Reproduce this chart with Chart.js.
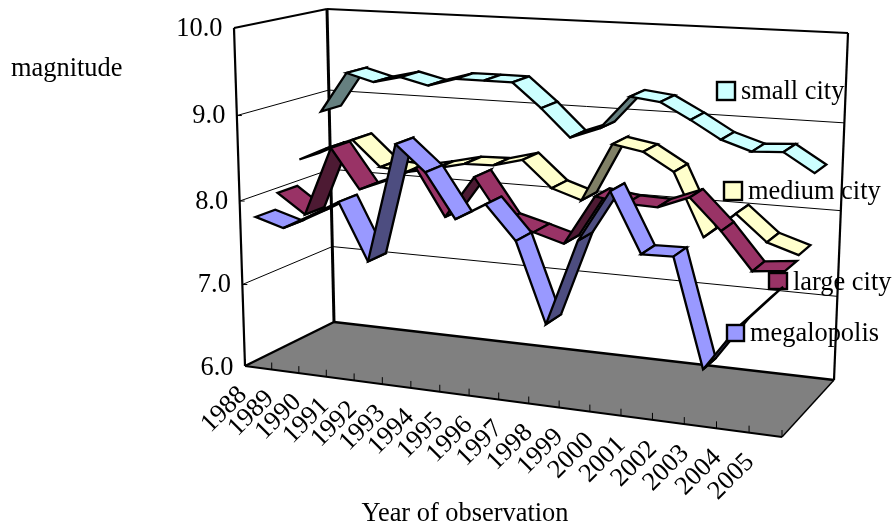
<!DOCTYPE html>
<html>
<head>
<meta charset="utf-8">
<style>html,body{margin:0;padding:0;background:#fff}canvas{display:block}</style>
<script src="https://cdn.jsdelivr.net/npm/chart.js@4"></script>
</head>
<body>
<canvas id="c" width="893" height="529" style="width:893px;height:529px"></canvas>
<script>
const categories = ['1988','1989','1990','1991','1992','1993','1994','1995','1996','1997','1998','1999','2000','2001','2002','2003','2004','2005'];
const smallCity   = [8.82,9.31,9.22,9.30,9.22,9.32,9.32,9.32,9.04,8.72,8.85,9.24,9.20,9.02,8.82,8.71,8.73,8.52];
const mediumCity  = [8.32,8.48,8.61,8.31,8.28,8.35,8.43,8.44,8.53,8.23,8.12,8.79,8.73,8.53,7.82,8.12,7.83,7.72];
const largeCity   = [8.01,7.78,8.60,8.14,8.28,8.45,7.91,8.40,7.92,7.83,7.73,8.30,8.25,8.24,8.38,8.04,7.63,7.67];
const megalopolis = [7.82,7.72,7.90,8.09,7.43,8.81,8.52,8.02,8.22,7.84,6.93,7.91,8.49,7.83,7.84,6.63,7.13,7.51];
const yMin = 6, yMax = 10, yStep = 1;
const FONT = '26.4px "Liberation Serif"';

// projected box corners: [front/back][left/right][bottom/top]
const C = {
  f:{l:{b:[245,366],t:[234,28]}, r:{b:[782,437],t:[796,62]}},
  k:{l:{b:[334,322],t:[327,9]},  r:{b:[834,380],t:[848,33]}}
};
const lerp=(a,b,s)=>[a[0]+(b[0]-a[0])*s,a[1]+(b[1]-a[1])*s];
function project(t,v,z){
  const tw=t*(1-0.11*(1-t)), vw=v*(1-0.048*(1-v));
  const fl=lerp(C.f.l.b,C.f.l.t,vw), fr=lerp(C.f.r.b,C.f.r.t,vw);
  const kl=lerp(C.k.l.b,C.k.l.t,vw), kr=lerp(C.k.r.b,C.k.r.t,vw);
  return lerp(lerp(fl,fr,tw),lerp(kl,kr,tw),z);
}
function line(ctx,a,b,w){ctx.lineWidth=w;ctx.beginPath();ctx.moveTo(a[0],a[1]);ctx.lineTo(b[0],b[1]);ctx.stroke();}
function key(ctx,x,y,w,h,col){ctx.fillStyle=col;ctx.strokeStyle='#000';ctx.lineWidth=2.4;ctx.fillRect(x,y,w,h);ctx.strokeRect(x,y,w,h);}

const ribbonStyle = [
  {z:0.77,light:'#CCFFFF',dark:'#668080'},
  {z:0.52,light:'#FFFFCC',dark:'#808066'},
  {z:0.27,light:'#993366',dark:'#4D1A33'},
  {z:0.02,light:'#9999FF',dark:'#4D4D80'}
];
const legendSpots = [
  {x:717,y:82,w:18,h:18,tx:741,ty:92.5},
  {x:724,y:182,w:18,h:18,tx:748,ty:192.5},
  {x:769,y:273,w:18,h:16,tx:793,ty:283.5},
  {x:727,y:325,w:17,h:16,tx:750,ty:334.5}
];

const box3d = {
  id:'box3d',
  afterDatasetsDraw(chart){
    const ctx=chart.ctx, xs=chart.scales.x, ys=chart.scales.y;
    const tOf=i=>(xs.getPixelForValue(i)-xs.left)/xs.width;
    const vOf=val=>(ys.bottom-ys.getPixelForValue(val))/ys.height;
    const P=project;
    ctx.save();
    ctx.strokeStyle='#000';ctx.lineJoin='miter';ctx.miterLimit=4;ctx.lineCap='butt';

    // floor
    ctx.fillStyle='#808080';ctx.beginPath();
    [P(0,0,0),P(1,0,0),P(1,0,1),P(0,0,1)].forEach((p,i)=>i?ctx.lineTo(p[0],p[1]):ctx.moveTo(p[0],p[1]));
    ctx.closePath();ctx.fill();

    // gridlines and value labels
    ctx.font=FONT;ctx.fillStyle='#000';ctx.textAlign='right';ctx.textBaseline='middle';
    ys.ticks.forEach(tk=>{
      const v=vOf(tk.value);
      const a=P(0,v,0),b=P(0,v,1),c=P(1,v,1);
      if(tk.value>yMin&&tk.value<yMax){line(ctx,a,b,1);line(ctx,b,c,1);line(ctx,a,[a[0]+5,a[1]],1);}
      ctx.fillText(tk.value.toFixed(1),a[0]-11.5,a[1]+1+(tk.value===yMin?1:0));
    });

    // walls
    line(ctx,P(0,0,0),P(0,1,0),2.2);
    line(ctx,P(0,1,0),P(0,1,1),2.2);
    line(ctx,P(0,1,1),P(1,1,1),2.2);
    line(ctx,P(0,0,1),P(0,1,1),3);
    line(ctx,P(1,0,1),P(1,1,1),2.2);
    line(ctx,P(0,0,0),P(0,0,1),2.5);
    line(ctx,P(0,0,1),P(1,0,1),2.5);
    line(ctx,P(1,0,0),P(1,0,1),1.5);
    line(ctx,P(0,0,0),P(1,0,0),2);

    // category ticks and labels
    const n=categories.length;
    for(let i=0;i<=n;i++){const p=P(i/n,0,0);line(ctx,p,[p[0],p[1]-7],1);}
    xs.ticks.forEach((tk,i)=>{
      const p=P(tOf(tk.value),0,0);
      ctx.save();ctx.translate(p[0]-34,p[1]+42);ctx.rotate(-Math.PI/4);
      ctx.textAlign='center';ctx.textBaseline='middle';ctx.fillStyle='#000';ctx.font=FONT;
      ctx.fillText(xs.getLabelForValue(tk.value),0,0);ctx.restore();
    });

    const drawLegend=idx=>{
      const d=chart.data.datasets[idx],s=legendSpots[idx];
      key(ctx,s.x,s.y,s.w,s.h,ribbonStyle[idx].light);
      ctx.font=FONT;ctx.fillStyle='#000';ctx.textAlign='left';ctx.textBaseline='middle';
      ctx.fillText(d.label,s.tx,s.ty);
    };
    drawLegend(2);

    // ribbons, back to front, segment by segment
    chart.data.datasets.forEach((d,k)=>{
      const st=ribbonStyle[k],z0=st.z,z1=st.z+0.22;
      ctx.strokeStyle='#000';ctx.lineWidth=2.3;
      for(let i=0;i<d.data.length-1;i++){
        const t0=tOf(i),t1=tOf(i+1),v0=vOf(d.data[i]),v1=vOf(d.data[i+1]);
        const a=P(t0,v0,z0),b=P(t1,v1,z0),c=P(t1,v1,z1),e=P(t0,v0,z1);
        const along=[b[0]-a[0],b[1]-a[1]],depth=[e[0]-a[0],e[1]-a[1]];
        const cross=along[0]*depth[1]-along[1]*depth[0];
        ctx.fillStyle=cross>0?st.dark:st.light;
        ctx.beginPath();ctx.moveTo(a[0],a[1]);ctx.lineTo(b[0],b[1]);ctx.lineTo(c[0],c[1]);ctx.lineTo(e[0],e[1]);ctx.closePath();
        ctx.fill();ctx.stroke();
      }
    });

    drawLegend(0);drawLegend(1);drawLegend(3);

    // axis titles
    ctx.font=FONT;ctx.fillStyle='#000';ctx.textBaseline='middle';
    ctx.textAlign='left';ctx.fillText(chart.options.plugins.box3d.yTitle,11,69.5);
    ctx.textAlign='center';ctx.fillText(chart.options.plugins.box3d.xTitle,465,514.5);
    ctx.restore();
  }
};

new Chart(document.getElementById('c'),{
  type:'line',
  data:{labels:categories,datasets:[
    {label:'small city',data:smallCity,borderWidth:0,pointRadius:0,showLine:false},
    {label:'medium city',data:mediumCity,borderWidth:0,pointRadius:0,showLine:false},
    {label:'large city',data:largeCity,borderWidth:0,pointRadius:0,showLine:false},
    {label:'megalopolis',data:megalopolis,borderWidth:0,pointRadius:0,showLine:false}
  ]},
  options:{
    responsive:false,animation:false,devicePixelRatio:1,
    layout:{padding:0},
    plugins:{legend:{display:false},tooltip:{enabled:false},box3d:{yTitle:'magnitude',xTitle:'Year of observation'}},
    scales:{
      x:{type:'category',offset:true,display:false,ticks:{autoSkip:false}},
      y:{type:'linear',min:yMin,max:yMax,display:false,ticks:{stepSize:yStep}}
    }
  },
  plugins:[box3d]
});
</script>
</body>
</html>
